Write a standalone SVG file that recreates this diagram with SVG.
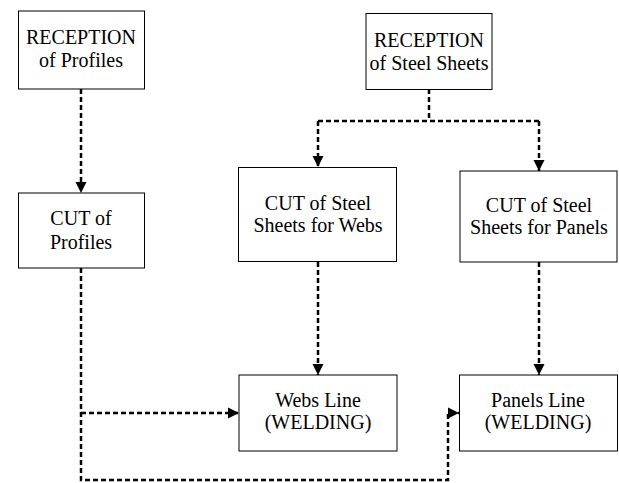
<svg xmlns="http://www.w3.org/2000/svg" width="619" height="483" viewBox="0 0 619 483">
<style>
.box{fill:#fff;stroke:#000;stroke-width:1}
.t{font-family:'Liberation Serif','Times New Roman',Times,'DejaVu Serif',serif;font-size:20px;fill:#000;text-anchor:middle}
.c{fill:none;stroke:#000;stroke-width:2.5;stroke-dasharray:5,3}
</style>
<defs>
<marker id="ah" viewBox="0 0 10 10" refX="10" refY="5" markerWidth="11" markerHeight="12" markerUnits="userSpaceOnUse" orient="auto">
<path d="M0,0 L10,5 L0,10 z" fill="#000"/>
</marker>
</defs>
<rect width="619" height="483" fill="#fff"/>
<g id="connectors">
<path class="c" d="M81,89 V193" marker-end="url(#ah)"/>
<path class="c" d="M429,89 V121"/>
<path class="c" d="M318,121 H539"/>
<path class="c" d="M318,121 V167" marker-end="url(#ah)"/>
<path class="c" d="M539,121 V171" marker-end="url(#ah)"/>
<path class="c" d="M318,262 V375" marker-end="url(#ah)"/>
<path class="c" d="M539,262 V375" marker-end="url(#ah)"/>
<path class="c" d="M81,268 V480 H448 V413 H459" marker-end="url(#ah)"/>
<path class="c" d="M81,413 H239" marker-end="url(#ah)"/>
</g>
<g id="reception-profiles">
<rect class="box" x="18.5" y="11" width="126" height="78"/>
<text class="t" x="81" y="44" font-family="Liberation Serif, serif">RECEPTION</text>
<text class="t" x="81" y="67" font-family="Liberation Serif, serif">of Profiles</text>
</g>
<g id="reception-sheets">
<rect class="box" x="366" y="13.5" width="126" height="76"/>
<text class="t" x="429" y="47">RECEPTION</text>
<text class="t" x="429" y="70">of Steel Sheets</text>
</g>
<g id="cut-profiles">
<rect class="box" x="18.5" y="193" width="126" height="75"/>
<text class="t" x="81" y="225">CUT of</text>
<text class="t" x="81" y="249">Profiles</text>
</g>
<g id="cut-webs">
<rect class="box" x="238.5" y="167.5" width="158" height="94"/>
<text class="t" x="318" y="210">CUT of Steel</text>
<text class="t" x="318" y="232">Sheets for Webs</text>
</g>
<g id="cut-panels">
<rect class="box" x="460" y="171" width="157" height="91"/>
<text class="t" x="539" y="212">CUT of Steel</text>
<text class="t" x="539" y="234">Sheets for Panels</text>
</g>
<g id="webs-line">
<rect class="box" x="239" y="375" width="158" height="76"/>
<text class="t" x="318" y="407">Webs Line</text>
<text class="t" x="318" y="429">(WELDING)</text>
</g>
<g id="panels-line">
<rect class="box" x="459.5" y="375" width="158" height="76"/>
<text class="t" x="538" y="407">Panels Line</text>
<text class="t" x="538" y="429">(WELDING)</text>
</g>
</svg>
